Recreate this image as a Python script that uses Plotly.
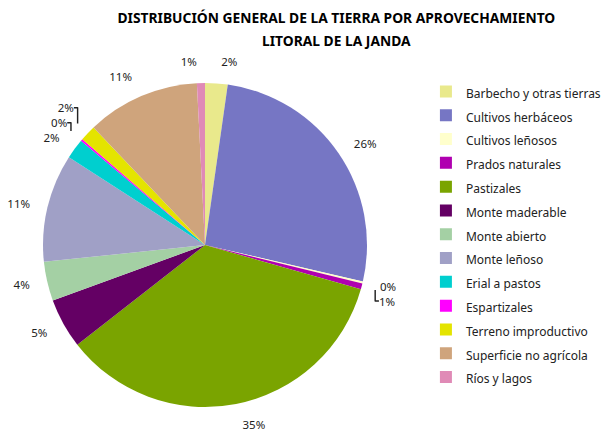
import plotly.graph_objects as go

categories = [
    "Barbecho y otras tierras", "Cultivos herbáceos", "Cultivos leñosos",
    "Prados naturales", "Pastizales", "Monte maderable", "Monte abierto",
    "Monte leñoso", "Erial a pastos", "Espartizales", "Terreno improductivo",
    "Superficie no agrícola", "Ríos y lagos",
]
values = [2.25, 26.4, 0.2, 0.6, 35.1, 5.0, 3.9, 10.8, 2.0, 0.2, 1.6, 11.3, 0.8]
colors = [
    "#E9E98C", "#7676C4", "#FFFFCC", "#B000B0", "#7AA400", "#640064",
    "#A4D0A4", "#A0A0C6", "#00CFCF", "#FF00FF", "#E4E400", "#CFA47C", "#E08AB6",
]
title_lines = ["DISTRIBUCIÓN GENERAL DE LA TIERRA POR APROVECHAMIENTO",
               "LITORAL DE LA JANDA"]

legend_labels = ["<span style='font-size:12px'>%s</span>" % c for c in categories]

fig = go.Figure()

# transparent, slightly larger pie that only carries the percentage labels
fig.add_trace(go.Pie(
    labels=legend_labels,
    values=values,
    sort=False,
    direction="clockwise",
    rotation=0,
    marker=dict(colors=["rgba(0,0,0,0)"] * len(values), line=dict(width=0)),
    textinfo="percent",
    texttemplate="%{percent:.0%}",
    textposition="outside",
    textfont=dict(family="Noto Sans", size=11.5, color="#222222"),
    automargin=False,
    showlegend=False,
    hoverinfo="skip",
    domain=dict(x=[0.0479, 0.6298], y=[0.0232, 0.8399]),
))

fig.add_trace(go.Pie(
    labels=legend_labels,
    values=values,
    sort=False,
    direction="clockwise",
    rotation=0,
    marker=dict(colors=colors, line=dict(width=0)),
    textinfo="none",
    automargin=False,
    domain=dict(x=[0.0711, 0.6066], y=[0.0557, 0.8074]),
    hoverinfo="label+percent",
))

fig.update_layout(
    width=605, height=431,
    margin=dict(l=0, r=0, t=0, b=0, autoexpand=False),
    paper_bgcolor="white",
    plot_bgcolor="white",
    title=dict(
        text="<b>%s</b>" % title_lines[0],
        x=0.556, xanchor="center", y=1 - 18 / 431, yanchor="middle",
        font=dict(family="Noto Sans", size=13.8, color="#000000"),
    ),
    annotations=[dict(
        text="<b>%s</b>" % title_lines[1],
        x=0.556, xref="paper", xanchor="center",
        y=1 - 40 / 431, yref="paper", yanchor="middle",
        showarrow=False,
        font=dict(family="Noto Sans", size=13.8, color="#000000"),
    )],
    legend=dict(
        x=0.704, y=0.827, xanchor="left", yanchor="top",
        font=dict(family="Noto Sans", size=16, color="#222222"),
        itemwidth=30,
        bgcolor="rgba(0,0,0,0)",
    ),
    showlegend=True,
)

fig.write_html("out.html", config={"displayModeBar": False},
               post_script="document.body.style.margin='0';")
